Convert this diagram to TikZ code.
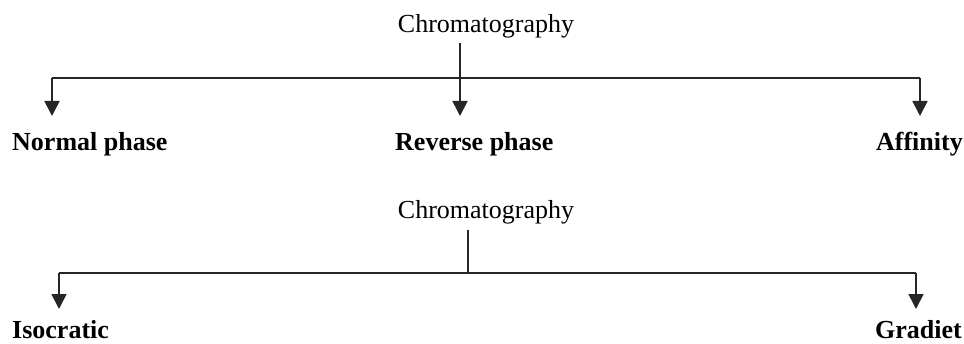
\documentclass[tikz,border=0pt]{standalone}
\usepackage{fontspec}
\setmainfont{Liberation Serif}
\usetikzlibrary{arrows.meta}
\begin{document}
\begin{tikzpicture}[x=1pt,y=1pt,
  lbl/.style={inner sep=0pt,font=\fontsize{26}{30}\selectfont},
  blbl/.style={inner sep=0pt,font=\fontsize{26}{30}\selectfont\bfseries},
  wire/.style={line width=1.7pt,draw=black!85},
  arr/.style={wire,-{Triangle[width=15pt,length=15pt]}}]
\useasboundingbox (0,0) rectangle (964,343);
% ---------- top tree ----------
\node[lbl,anchor=base] (c1) at (486,310) {Chromatography};
\coordinate (s1) at (460,300);
\coordinate (j1) at (460,265);
\coordinate (l1) at (52,265);
\coordinate (r1) at (920,265);
\coordinate (tl1) at (52,227);
\coordinate (tm1) at (460,227);
\coordinate (tr1) at (920,227);
\node[blbl,anchor=base west] (np) at (12,192) {Normal phase};
\node[blbl,anchor=base west] (rp) at (395,192) {Reverse phase};
\node[blbl,anchor=base east] (af) at (963,192) {Affinity};
\draw[wire] (l1) -- (r1);
\draw[arr] (s1) -- (tm1);
\draw[arr] (l1) -- (tl1);
\draw[arr] (r1) -- (tr1);
% ---------- bottom tree ----------
\node[lbl,anchor=base] (c2) at (486,124) {Chromatography};
\coordinate (s2) at (468,113);
\coordinate (j2) at (468,70);
\coordinate (l2) at (59,70);
\coordinate (r2) at (916,70);
\coordinate (tl2) at (59,34);
\coordinate (tr2) at (916,34);
\node[blbl,anchor=base west] (iso) at (12,5) {Isocratic};
\node[blbl,anchor=base east] (gr) at (962,5) {Gradiet};
\draw[wire] (s2) -- (j2);
\draw[wire] (l2) -- (r2);
\draw[arr] (l2) -- (tl2);
\draw[arr] (r2) -- (tr2);
\end{tikzpicture}
\end{document}
